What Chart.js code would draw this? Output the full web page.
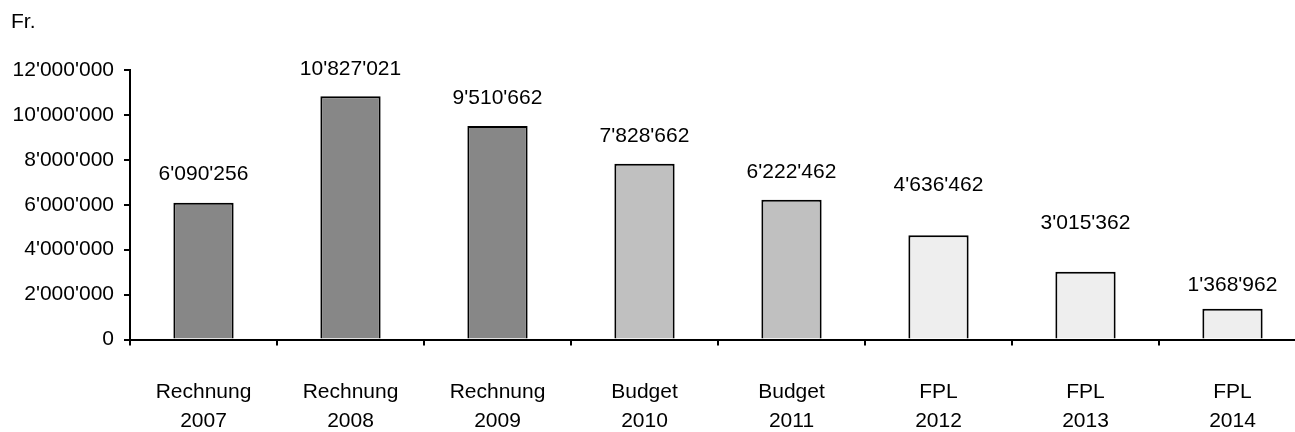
<!doctype html>
<html>
<head>
<meta charset="utf-8">
<title>Fr. 2007-2014</title>
<script src="https://cdn.jsdelivr.net/npm/chart.js@4.4.1/dist/chart.umd.min.js"></script>
<style>
  html, body { margin: 0; padding: 0; background: #ffffff; overflow: hidden; }
  #wrap { width: 1306px; height: 432px; }
</style>
</head>
<body>
<div id="wrap"><canvas id="chart" width="1306" height="432"></canvas></div>
<script>
  // Amounts in Fr., actuals (Rechnung), budget and financial plan (FPL)
  const categories = [
    ['Rechnung', '2007'], ['Rechnung', '2008'], ['Rechnung', '2009'],
    ['Budget', '2010'], ['Budget', '2011'],
    ['FPL', '2012'], ['FPL', '2013'], ['FPL', '2014']
  ];
  const amounts = [6090256, 10827021, 9510662, 7828662, 6222462, 4636462, 3015362, 1368962];
  const yTicks = [0, 2000000, 4000000, 6000000, 8000000, 10000000, 12000000];

  const barColors = ['#878787', '#878787', '#878787', '#c0c0c0', '#c0c0c0', '#eeeeee', '#eeeeee', '#eeeeee'];
  // distance from bar top to the middle of its value label
  const labelGap = [29, 27, 28, 27, 28, 50, 49, 24];

  const FONT = "'Liberation Sans', Arial, Helvetica, sans-serif";

  // 12'000'000 style thousands separator
  function swiss(n) {
    return String(n).replace(/\B(?=(\d{3})+(?!\d))/g, "'");
  }

  const valueLabels = {
    id: 'valueLabels',
    afterDatasetsDraw(chart) {
      const { ctx } = chart;
      const meta = chart.getDatasetMeta(0);
      ctx.save();
      ctx.font = '21px ' + FONT;
      ctx.fillStyle = '#000';
      ctx.textAlign = 'center';
      ctx.textBaseline = 'middle';
      meta.data.forEach((bar, i) => {
        ctx.fillText(swiss(amounts[i]), bar.x, bar.y - labelGap[i]);
      });
      ctx.restore();
    }
  };

  const unitLabel = {
    id: 'unitLabel',
    afterDraw(chart) {
      const { ctx } = chart;
      ctx.save();
      ctx.font = '21px ' + FONT;
      ctx.fillStyle = '#000';
      ctx.textAlign = 'left';
      ctx.textBaseline = 'middle';
      ctx.fillText('Fr.', 11, 22);
      ctx.restore();
    }
  };

  new Chart(document.getElementById('chart'), {
    type: 'bar',
    data: {
      labels: categories,
      datasets: [{
        data: amounts,
        backgroundColor: barColors,
        borderColor: '#000',
        borderWidth: 2,
        categoryPercentage: 1,
        barPercentage: 0.41
      }]
    },
    options: {
      responsive: false,
      animation: false,
      layout: { padding: { top: 70, left: 0, right: 0, bottom: 0 } },
      plugins: {
        legend: { display: false },
        tooltip: { enabled: false }
      },
      scales: {
        x: {
          offset: true,
          grid: {
            offset: true,
            drawOnChartArea: false,
            drawTicks: true,
            tickLength: 6,
            color: '#000',
            lineWidth: 2
          },
          border: { display: true, color: '#000', width: 2 },
          ticks: {
            color: '#000',
            font: { family: FONT, size: 21, lineHeight: 1.4 },
            padding: 32,
            maxRotation: 0,
            autoSkip: false
          },
          afterFit(scale) { scale.height = 92.5; }
        },
        y: {
          min: 0,
          max: 12000000,
          afterBuildTicks(scale) { scale.ticks = yTicks.map(v => ({ value: v })); },
          grid: {
            drawOnChartArea: false,
            drawTicks: true,
            tickLength: 6,
            color: '#000',
            lineWidth: 2
          },
          border: { display: true, color: '#000', width: 2 },
          ticks: {
            color: '#000',
            font: { family: FONT, size: 21 },
            padding: 10,
            callback: v => swiss(v)
          },
          afterFit(scale) { scale.width = 130; }
        }
      }
    },
    plugins: [valueLabels, unitLabel]
  });
</script>
</body>
</html>
